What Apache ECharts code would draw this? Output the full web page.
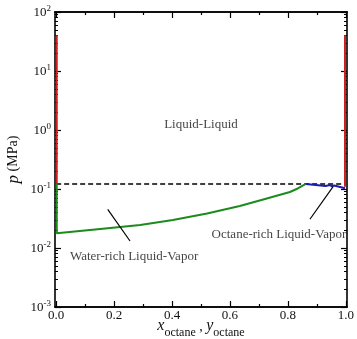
<!DOCTYPE html>
<html>
<head>
<meta charset="utf-8">
<script src="https://cdn.jsdelivr.net/npm/echarts@6/dist/echarts.min.js"></script>
<style>
  html, body { margin: 0; padding: 0; background: #fff; }
  #main { width: 357px; height: 339px; }
</style>
</head>
<body>
<div id="main"></div>
<script>
// x = octane mole fraction, y = pressure in MPa
const redLeft = [[0.002, 0.1216], [0.002, 40.5]];
const redRight = [[0.997, 0.109], [0.997, 40.5]];
const greenCurve = [
  [0.002, 0.1216], [0.002, 0.0177], [0.152, 0.0210], [0.29, 0.0245],
  [0.403, 0.0299], [0.521, 0.0385], [0.634, 0.0515], [0.721, 0.0678],
  [0.807, 0.0889], [0.834, 0.102], [0.862, 0.1216]
];
const blueCurve = [
  [0.862, 0.1216], [0.93, 0.1125], [0.945, 0.1165], [0.953, 0.111],
  [0.96, 0.115], [0.997, 0.1028]
];
const threePhase = [[0, 0.1216], [1, 0.1216]];
const leaderWater = [[0.178, 0.0453], [0.255, 0.01315]];
const leaderOctane = [[0.876, 0.0307], [0.956, 0.1094]];

const regionLabels = ['Liquid-Liquid', 'Water-rich Liquid-Vapor', 'Octane-rich Liquid-Vapor'];
const regionAt = [[0.5, 1.26], [0.269, 0.00703], [0.769, 0.0172]];

const xMajor = [0, 0.2, 0.4, 0.6, 0.8, 1.0];
const xMinor = [0.1, 0.3, 0.5, 0.7, 0.9];
const yDecades = [-3, -2, -1, 0, 1];
const yMinorMult = [2, 3, 4, 5, 6, 7, 8, 9];

const FONT = 'Liberation Serif';
const yMinor = [];
yDecades.forEach(function (d) {
  yMinorMult.forEach(function (k) { yMinor.push(Math.log10(k) + d); });
});

const chart = echarts.init(document.getElementById('main'));

function xAx(pos, ticks, len, withLabel) {
  return {
    type: 'value', position: pos, min: -0.004, max: 1.004,
    axisLine: { show: withLabel !== null, onZero: false, lineStyle: { color: '#000', width: 1.6 } },
    axisTick: { inside: true, length: len, customValues: ticks, lineStyle: { color: '#000', width: 1.2 } },
    axisLabel: withLabel ? {
      customValues: xMajor, formatter: function (v) { return v.toFixed(1); },
      fontFamily: FONT, fontSize: 13, color: '#111', margin: 2
    } : { show: false },
    splitLine: { show: false }
  };
}

function yMinorAx(pos) {
  return {
    type: 'value', position: pos, min: -3, max: 2,
    axisLine: { show: false, onZero: false },
    axisTick: { inside: true, length: 3, customValues: yMinor, lineStyle: { color: '#000', width: 1 } },
    axisLabel: { show: false },
    splitLine: { show: false }
  };
}

const xBottom = xAx('bottom', xMajor, 6, true);
xBottom.name = '{i|x}{s|octane}{n| , }{i|y}{s|octane}';
xBottom.nameLocation = 'middle';
xBottom.nameGap = 11;
xBottom.nameMoveOverlap = false;
xBottom.nameTextStyle = {
  fontFamily: FONT, color: '#111',
  rich: {
    i: { fontFamily: FONT, fontStyle: 'italic', fontSize: 16, color: '#111', verticalAlign: 'bottom', padding: [0, 0, 5, 0] },
    n: { fontFamily: FONT, fontSize: 14, color: '#111', verticalAlign: 'bottom', padding: [0, 0, 5, 0] },
    s: { fontFamily: FONT, fontSize: 12, color: '#111', verticalAlign: 'bottom' }
  }
};

const lineSeries = function (data, color, width, type) {
  return {
    type: 'line', data: data, symbol: 'none', silent: true, animation: false,
    lineStyle: { color: color, width: width, type: type || 'solid' }
  };
};

chart.setOption({
  animation: false,
  backgroundColor: '#fff',
  grid: { left: 55, right: 10, top: 12, bottom: 32, containLabel: false, outerBoundsMode: 'none' },
  xAxis: [
    xBottom,
    xAx('bottom', xMinor, 3, false),
    xAx('top', xMajor, 6, false),
    xAx('top', xMinor, 3, false)
  ],
  yAxis: [
    {
      type: 'log', position: 'left', min: 0.001, max: 100, logBase: 10,
      name: '{i|p} (MPa)', nameLocation: 'middle', nameRotate: 90, nameGap: 33,
      nameMoveOverlap: false,
      nameTextStyle: {
        fontFamily: FONT, fontSize: 14, color: '#111',
        rich: { i: { fontFamily: FONT, fontStyle: 'italic', fontSize: 17, color: '#111' } }
      },
      axisLine: { show: true, onZero: false, lineStyle: { color: '#000', width: 1.6 } },
      axisTick: { inside: true, length: 6, lineStyle: { color: '#000', width: 1.2 } },
      axisLabel: {
        margin: 4,
        formatter: function (v) {
          return '{b|10}{s|' + Math.round(Math.log10(v)) + '}';
        },
        rich: {
          b: { fontFamily: FONT, fontSize: 13, color: '#111', verticalAlign: 'bottom' },
          s: { fontFamily: FONT, fontSize: 9, color: '#111', verticalAlign: 'bottom', padding: [0, 0, 6, 0] }
        }
      },
      splitLine: { show: false }
    },
    yMinorAx('left'),
    {
      type: 'log', position: 'right', min: 0.001, max: 100, logBase: 10,
      axisLine: { show: true, onZero: false, lineStyle: { color: '#000', width: 1.6 } },
      axisTick: { inside: true, length: 6, lineStyle: { color: '#000', width: 1.2 } },
      axisLabel: { show: false },
      splitLine: { show: false }
    },
    yMinorAx('right')
  ],
  series: [
    lineSeries(threePhase, '#000', 1.3, [5, 3]),
    lineSeries(greenCurve, '#1d8a1d', 2),
    lineSeries(blueCurve, '#1c1cb0', 2),
    lineSeries(redLeft, '#cc2020', 2),
    lineSeries(redRight, '#cc2020', 2),
    lineSeries(leaderWater, '#000', 1.2),
    lineSeries(leaderOctane, '#000', 1.2),
    {
      type: 'scatter', symbolSize: 0, silent: true,
      data: regionLabels.map(function (t, i) { return { name: t, value: regionAt[i] }; }),
      label: {
        show: true, position: 'inside', formatter: '{b}',
        fontFamily: FONT, fontSize: 13, color: '#111'
      }
    }
  ]
});
</script>
</body>
</html>
